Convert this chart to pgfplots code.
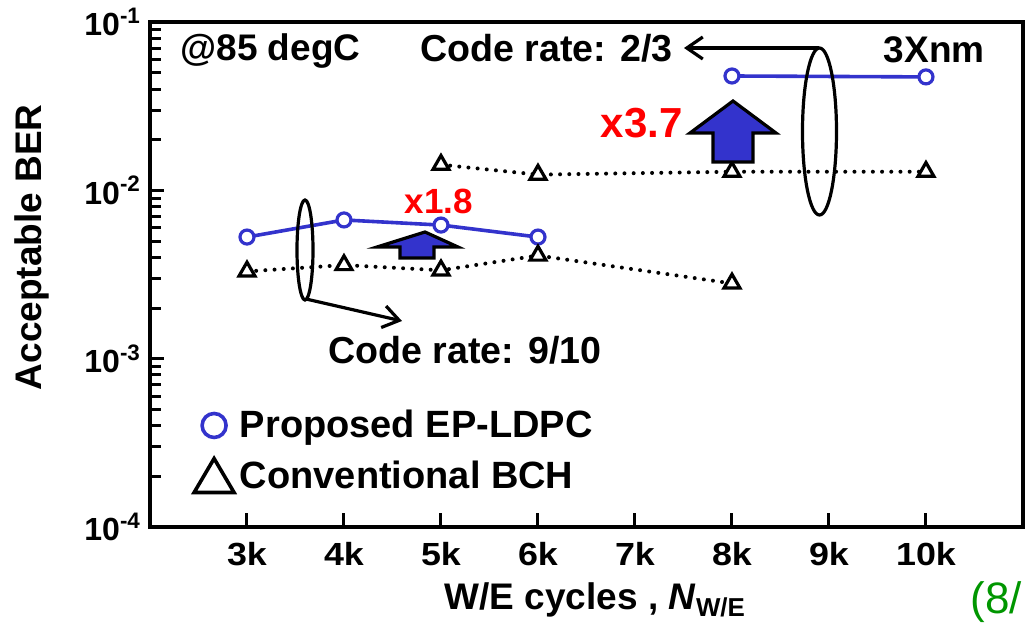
\documentclass[border=0pt]{standalone}
\usepackage{pgfplots}
\pgfplotsset{compat=1.18}
\usepackage{fontspec}
\setmainfont{Liberation Sans}
\usetikzlibrary{arrows.meta}
\definecolor{ldpc}{RGB}{51,51,204}
\definecolor{pagegreen}{RGB}{0,150,0}
\definecolor{annred}{RGB}{255,0,0}
\newcommand{\xs}[1]{\scalebox{1.12}[1]{#1}}

\begin{document}
\begin{tikzpicture}
\begin{axis}[
  at={(0,0)}, anchor=south west, scale only axis,
  width=436.5pt, height=252.5pt,
  xmin=2000, xmax=11000,
  ymode=log, ymin=1e-4, ymax=1e-1,
  scaled x ticks=false,
  axis line style={line width=2pt},
  xtick={3000,4000,5000,6000,7000,8000,9000,10000},
  xticklabels={\xs{3k},\xs{4k},\xs{5k},\xs{6k},\xs{7k},\xs{8k},\xs{9k},\xs{10k}},
  ytick={1e-4,1e-3,1e-2,1e-1},
  yticklabels={10\textsuperscript{-4},10\textsuperscript{-3},10\textsuperscript{-2},10\textsuperscript{-1}},
  minor ytick={2e-4,3e-4,4e-4,5e-4,6e-4,7e-4,8e-4,9e-4,2e-3,3e-3,4e-3,5e-3,6e-3,7e-3,8e-3,9e-3,2e-2,3e-2,4e-2,5e-2,6e-2,7e-2,8e-2,9e-2},
  tick align=inside, xtick pos=bottom, ytick pos=left,
  major tick length=7pt, minor tick length=5.5pt,
  every tick/.style={black, line width=1.5pt},
  ticklabel style={font=\fontsize{16}{18}\selectfont\bfseries},
  xticklabel style={yshift=-4pt},
  yticklabel style={xshift=-1pt},
  xlabel={\textbf{W/E cycles , }\textbf{\textit{N}}\textsubscript{\textbf{W/E}}},
  xlabel style={font=\fontsize{18.5}{20}\selectfont, at={(axis description cs:0.51,-0.145)}, anchor=center},
  ylabel={\textbf{Acceptable BER}},
  ylabel style={font=\fontsize{18.5}{20}\selectfont, at={(axis description cs:-0.135,0.554)}, anchor=center},
  legend style={at={(axis description cs:0.048,0.24)}, anchor=north west, draw=none, fill=none,
    font=\fontsize{19}{21}\selectfont\bfseries, row sep=6pt, inner sep=0pt},
  legend cell align=left,
  clip=false,
]
% Code rate 9/10 - proposed EP-LDPC
\addplot[ldpc, line width=1.8pt, mark=*, mark size=3.5pt, mark options={fill=white, line width=1.6pt},
  legend image code/.code={\draw[ldpc,line width=1.8pt] (5pt,0pt) circle[radius=6pt];}]
  coordinates {(3000,5.28e-3) (4000,6.67e-3) (5000,6.22e-3) (6000,5.28e-3)};
\addlegendentry{Proposed EP-LDPC}
% Code rate 9/10 - conventional BCH
\addplot[black, line width=2pt, dash pattern=on 0pt off 4.6pt, line cap=round,
  mark=triangle*, mark size=4.6pt, mark options={solid, fill=white, line width=1.6pt, line join=miter},
  legend image code/.code={\draw[solid,black,line width=1.8pt,line join=miter] (-5pt,-8pt) -- (15pt,-8pt) -- (5pt,9pt) -- cycle;}]
  coordinates {(3000,3.3e-3) (4000,3.6e-3) (5000,3.35e-3) (6000,4.1e-3) (8000,2.8e-3)};
\addlegendentry{Conventional BCH}
% Code rate 2/3 - proposed EP-LDPC
\addplot[ldpc, line width=1.8pt, mark=*, mark size=3.5pt, mark options={fill=white, line width=1.6pt}, forget plot]
  coordinates {(8000,4.78e-2) (10000,4.72e-2)};
% Code rate 2/3 - conventional BCH
\addplot[black, line width=2pt, dash pattern=on 0pt off 4.6pt, line cap=round,
  mark=triangle*, mark size=4.6pt, mark options={solid, fill=white, line width=1.6pt, line join=miter}, forget plot]
  coordinates {(5000,1.42e-2) (6000,1.24e-2) (8000,1.29e-2) (10000,1.29e-2)};
\end{axis}
% annotations, in pixel units of the reference (origin at top-left)
\begin{scope}[shift={(-75pt,263.5pt)}, x=0.5pt, y=-0.5pt, every node/.style={inner sep=0pt}]
  \node[anchor=base west, font=\fontsize{18.5}{20}\selectfont\bfseries] at (180,60) {@85 degC};
  \node[anchor=base west, font=\fontsize{18.8}{20}\selectfont\bfseries] at (420,61) {Code rate: 2/3};
  \node[anchor=base east, font=\fontsize{18.5}{20}\selectfont\bfseries] at (985,62) {3Xnm};
  \node[anchor=base east, font=\fontsize{21}{22}\selectfont\bfseries, text=annred] at (683,137) {x3.7};
  \node[anchor=base, font=\fontsize{17.5}{18}\selectfont\bfseries, text=annred] at (439,213) {x1.8};
  \node[anchor=base west, font=\fontsize{18.8}{20}\selectfont\bfseries] at (328,363) {Code rate: 9/10};
  \node[anchor=base west, font=\fontsize{22}{24}\selectfont, text=pagegreen] at (970,613) {(8/};
  % big arrow
  \draw[line width=1.6pt, fill=ldpc, line join=miter]
    (713,162) -- (713,133) -- (690,133) -- (733,101) -- (776,133) -- (753,133) -- (753,162) -- cycle;
  % small arrow
  \draw[line width=1.6pt, fill=ldpc, line join=miter]
    (400,258) -- (400,247) -- (377,247) -- (425,232) -- (458,247) -- (434,247) -- (434,258) -- cycle;
  % ellipses
  \draw[line width=1.6pt] (305,250) ellipse[x radius=8, y radius=50];
  \draw[line width=1.6pt] (819.5,131.5) ellipse[x radius=17, y radius=83.5];
  % arrows
  \draw[line width=1.6pt, -{Straight Barb[length=8pt,width=11pt,line width=1.6pt]}] (306,299) -- (402,321);
  \draw[line width=1.6pt, -{Straight Barb[length=8pt,width=11pt,line width=1.6pt]}] (819,48) -- (684,48);
\end{scope}
\pgfresetboundingbox
\path (-75pt,-48pt) rectangle (440pt,263.5pt);
\end{tikzpicture}
\end{document}
